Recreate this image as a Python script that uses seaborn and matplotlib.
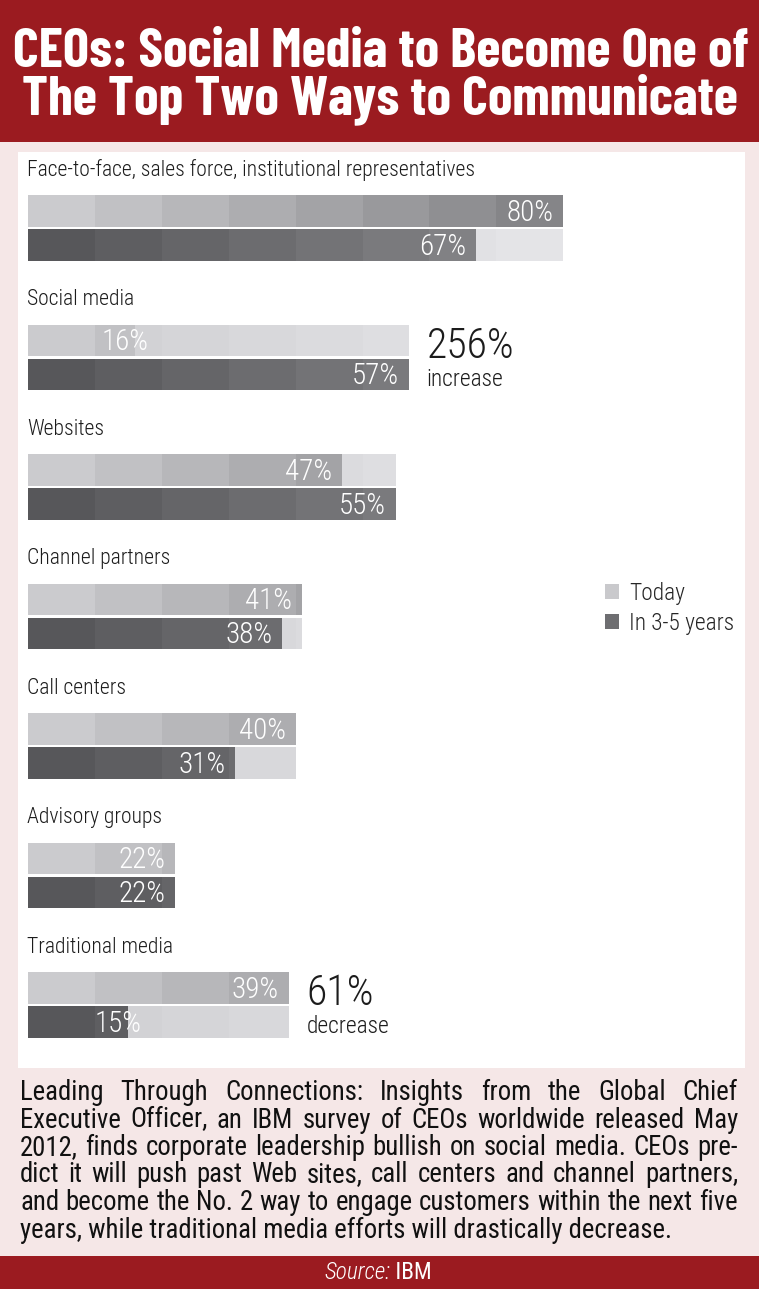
import numpy as np
import pandas as pd
import seaborn as sns
import matplotlib.pyplot as plt
from matplotlib.patches import Rectangle

channels = ["Face-to-face, sales force, institutional representatives",
            "Social media", "Websites", "Channel partners", "Call centers",
            "Advisory groups", "Traditional media"]
today = [80, 16, 47, 41, 40, 22, 39]
future = [67, 57, 55, 38, 31, 22, 15]
periods = ["Today", "In 3-5 years"]

callout_channels = ["Social media", "Traditional media"]
callout_values = ["256%", "61%"]
callout_words = ["increase", "decrease"]

title_lines = ["CEOs: Social Media to Become One of",
               "The Top Two Ways to Communicate"]
desc_lines = [
    "Leading Through Connections: Insights from the Global Chief",
    "Executive Officer, an IBM survey of CEOs worldwide released May",
    "2012, finds corporate leadership bullish on social media. CEOs pre-",
    "dict it will push past Web sites, call centers and channel partners,",
    "and become the No. 2 way to engage customers within the next five",
    "years, while traditional media efforts will drastically decrease.",
]

# --- style ---
sns.set_theme(style="white")
FONT = ["Roboto Condensed", "DejaVu Sans"]
TITLE_FONT = ["Barlow Condensed", "Roboto Condensed", "DejaVu Sans"]
plt.rcParams["font.family"] = FONT
plt.rcParams["font.stretch"] = "condensed"

RED = "#9b1b20"
PINK = "#f5e7e7"
INK = "#1c1c1c"
W, H = 759, 1289
X0, SX = 28, 6.69      # pixel of 0% and pixels per percent
Y0, SY = 228, 129.5    # pixel of first group centre and group spacing

fig = plt.figure(figsize=(W / 100, H / 100), dpi=100)
fig.patch.set_facecolor(PINK)
renderer = fig.canvas.get_renderer()


def px_rect(x0, y0, x1, y1, color):
    fig.add_artist(Rectangle((x0 / W, 1 - y1 / H), (x1 - x0) / W, (y1 - y0) / H,
                             transform=fig.transFigure, color=color, lw=0, zorder=-1))


def px_text(x, y, s, **kw):
    return fig.text(x / W, 1 - y / H, s, **kw)


def fit_size(s, target, **kw):
    # font size at which s is target pixels wide
    probe = fig.text(0, 0, s, fontsize=20, **kw)
    size = 20 * target / probe.get_window_extent(renderer).width
    probe.remove()
    return size


px_rect(0, 0, W, 142, RED)
px_rect(18, 152, 745, 1068, "white")
px_rect(0, 1256, W, H, RED)

# title
tsize = fit_size(title_lines[0], 736, fontweight="bold", family=TITLE_FONT)
px_text(W / 2 + 1, 67, title_lines[0], color="white", fontsize=tsize,
        fontweight="bold", family=TITLE_FONT, ha="center", va="baseline")
px_text(W / 2, 114, title_lines[1], color="white", fontsize=tsize,
        fontweight="bold", family=TITLE_FONT, ha="center", va="baseline")

lsize = fit_size(channels[0], 447, fontweight="light")
gsize = fit_size(periods[1], 105, fontweight="light")
vsize = fit_size("80%", 47, fontweight="light")
bsize = fit_size(callout_values[0], 88, fontweight="light")

# --- bars ---
ax = fig.add_axes([0, 0, 1, 1])
df = pd.DataFrame({"channel": channels * 2,
                   "period": [periods[0]] * len(channels) + [periods[1]] * len(channels),
                   "share": today + future})
sns.barplot(data=df, x="share", y="channel", hue="period", orient="h",
            palette=["#c9c9cc", "#6d6d71"], width=0.525, gap=0.08,
            errorbar=None, linewidth=0, ax=ax)

ramp_today = lambda s: 0xcb - 10 * s
ramp_future = lambda s: 0x57 + 7 * s
ramp_rest = lambda s: 0xcf + 3 * s
grey = lambda v: "#{0:02x}{0:02x}{1:02x}".format(int(v), int(min(v + 3, 255)))

bars = [p for p in ax.patches
        if abs(p.get_y() + p.get_height() / 2 - round(p.get_y() + p.get_height() / 2)) > 0.02]
for p in bars:
    yc = p.get_y() + p.get_height() / 2
    i = int(round(yc))
    j = 0 if yc < i else 1
    v = [today, future][j][i]
    m = max(today[i], future[i])
    ramp = ramp_today if j == 0 else ramp_future
    for s in range(int(np.ceil(m / 10))):
        lo, hi = 10 * s, min(10 * s + 10, m)
        if lo < v:
            ax.barh(yc, min(hi, v) - lo, left=lo, height=p.get_height(),
                    color=grey(ramp(s)), lw=0)
        if hi > v:
            ax.barh(yc, hi - max(lo, v), left=max(lo, v), height=p.get_height(),
                    color=grey(ramp_rest(s)), lw=0)
    ax.text(v - 1.5, yc + 0.075, f"{v}%", color="white", fontsize=vsize,
            fontweight="light", ha="right" if v >= 20 else "center", va="baseline")

for i, name in enumerate(channels):
    ax.text(-0.1, i - 0.405, name, fontsize=lsize, color=INK,
            fontweight="light", ha="left", va="baseline")

for name, big, word in zip(callout_channels, callout_values, callout_words):
    i = channels.index(name)
    x = max(today[i], future[i]) + 2.6
    ax.text(x, i - 0.13 + 0.13, big, fontsize=bsize, color=INK,
            fontweight="light", ha="left", va="baseline")
    ax.text(x, i + 0.13 + 0.09, word, fontsize=gsize, color=INK,
            fontweight="light", ha="left", va="baseline")

ax.set_xlim(-X0 / SX, (W - X0) / SX)
ax.set_ylim((H - Y0) / SY, -Y0 / SY)
ax.patch.set_alpha(0)
ax.axis("off")

sns.move_legend(ax, "upper left", bbox_to_anchor=(605 / W, 1 - 582 / H),
                bbox_transform=fig.transFigure, title=None, frameon=False,
                prop={"size": gsize, "weight": "light"},
                handlelength=0.62, handleheight=0.62,
                handletextpad=0.42, labelspacing=0.3, borderpad=0,
                borderaxespad=0)

# --- description, justified ---
dsize = fit_size(desc_lines[-1], 652)
for k, line in enumerate(desc_lines):
    y = 1100 + 27.5 * k
    if k == len(desc_lines) - 1:
        px_text(20, y, line, fontsize=dsize, color="#111111", va="baseline")
        continue
    words = line.split(" ")
    arts = [px_text(0, y, w_, fontsize=dsize, color="#111111", va="baseline")
            for w_ in words]
    widths = [a.get_window_extent(renderer).width for a in arts]
    gapw = (738 - 20 - sum(widths)) / (len(words) - 1)
    x = 20
    for a, w_ in zip(arts, widths):
        a.set_x(x / W)
        x += w_ + gapw

# source line
ssize = fit_size("Source: IBM", 111)
s1 = px_text(0, 1279, "Source:", fontsize=ssize, color="white", style="italic",
             fontweight="light", va="baseline")
s2 = px_text(0, 1279, " IBM", fontsize=ssize, color="white", va="baseline")
w1 = s1.get_window_extent(renderer).width
w2 = s2.get_window_extent(renderer).width
s1.set_x((378 - (w1 + w2) / 2) / W)
s2.set_x((378 - (w1 + w2) / 2 + w1) / W)

fig.savefig("out.png", dpi=100, facecolor=fig.get_facecolor())
